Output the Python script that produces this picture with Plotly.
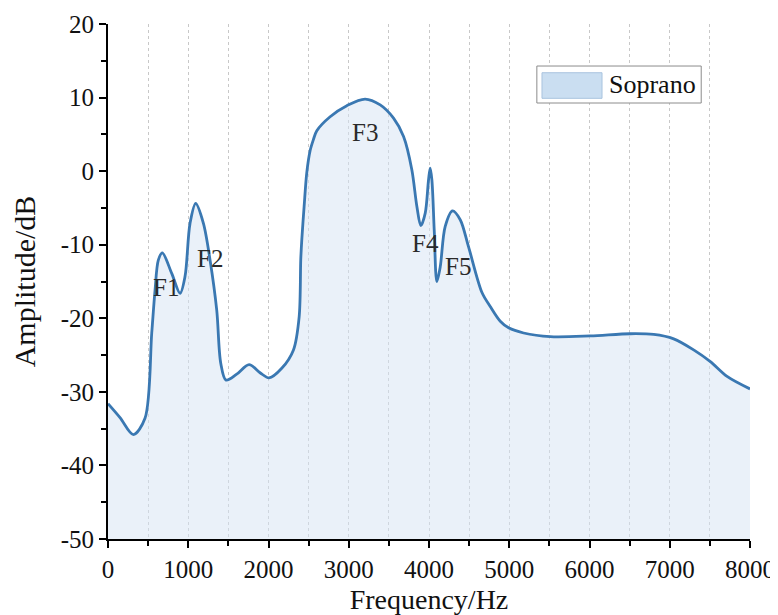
import plotly.graph_objects as go

# ---- data ----
freq_hz = [0, 150, 316, 461, 545, 586, 627, 677, 794, 898, 960, 1022, 1093, 1189,
           1272, 1355, 1405, 1471, 1604, 1758, 1895, 2007, 2165, 2311, 2382, 2402,
           2415, 2444, 2477, 2519, 2560, 2602, 2768, 2976, 3204, 3392, 3558, 3683,
           3786, 3849, 3898, 3953, 3994, 4015, 4036, 4065, 4098, 4140, 4202, 4293,
           4389, 4493, 4660, 4763, 4888, 4992, 5179, 5511, 6010, 6509, 6800, 7049,
           7298, 7506, 7714, 8000]
amp_db = [-31.6, -33.5, -35.8, -33.6, -22.0, -16.2, -12.1, -11.1, -13.9, -16.6, -14.3,
          -7.1, -4.4, -7.1, -12.1, -18.9, -26.1, -28.4, -27.6, -26.3, -27.4, -28.1,
          -26.8, -24.3, -19.8, -12.0, -9.3, -4.8, -0.2, 2.8, 4.3, 5.5, 7.4, 8.9, 9.8,
          9.0, 7.2, 4.7, 0.2, -4.8, -7.4, -5.7, -1.2, 0.4, -1.2, -8.0, -15.0, -13.0,
          -7.5, -5.4, -6.6, -10.3, -16.5, -18.4, -20.4, -21.3, -22.0, -22.5, -22.4,
          -22.1, -22.2, -22.8, -24.3, -25.9, -27.9, -29.6]

formant_labels = ["F1", "F2", "F3", "F4", "F5"]
formant_x = [723, 1272, 3198, 3953, 4358]
formant_y = [-15.8, -11.9, 5.3, -9.9, -12.9]

series_name = "Soprano"
x_range = [0, 8000]
y_range = [-50, 20]
x_tickvals = [0, 1000, 2000, 3000, 4000, 5000, 6000, 7000, 8000]
x_ticktext = ["0", "1000", "2000", "3000", "4000", "5000", "6000", "7000", "8000"]
y_tickvals = [-50, -40, -30, -20, -10, 0, 10, 20]
y_ticktext = ["-50", "-40", "-30", "-20", "-10", "0", "10", "20"]

FONT = "Liberation Serif, Times New Roman, serif"
LINE_COLOR = "#3a78b2"
FILL_COLOR = "rgba(214,228,244,0.5)"
TXT = "#111111"

fig = go.Figure()
# baseline at bottom of the axis so the fill reaches the axis
fig.add_trace(go.Scatter(x=[x_range[0], x_range[1]], y=[y_range[0], y_range[0]],
                         mode="lines", line=dict(width=0), showlegend=False,
                         hoverinfo="skip"))
fig.add_trace(go.Scatter(x=freq_hz, y=amp_db, mode="lines", name=series_name,
                         line=dict(color=LINE_COLOR, width=2.8, shape="spline", smoothing=0.9),
                         fill="tonexty", fillcolor=FILL_COLOR, showlegend=False))

for lab, fx, fy in zip(formant_labels, formant_x, formant_y):
    fig.add_annotation(x=fx, y=fy, text=lab, showarrow=False,
                       font=dict(family=FONT, size=25, color="#2a2a2a"))

# legend box drawn manually (wide swatch as in the reference)
fig.add_shape(type="rect", xref="paper", yref="paper", x0=0.668, x1=0.924,
              y0=0.8466, y1=0.9184, line=dict(color="#8c8c8c", width=1),
              fillcolor="white", layer="above")
fig.add_shape(type="rect", xref="paper", yref="paper", x0=0.676, x1=0.7695,
              y0=0.8557, y1=0.9054, line=dict(color="#a9c3de", width=1),
              fillcolor="#cadef1", layer="above")
fig.add_annotation(xref="paper", yref="paper", x=0.7773, y=0.8816, text=series_name,
                   showarrow=False, xanchor="left", yanchor="middle",
                   font=dict(family=FONT, size=26, color=TXT))

# page body has an 8px margin, so the figure is drawn 8px smaller and offset
fig.update_layout(
    width=770, height=607,
    margin=dict(l=100, r=28, t=16, b=76),
    paper_bgcolor="white", plot_bgcolor="white",
    font=dict(family=FONT, color=TXT),
    showlegend=False,
)
fig.update_xaxes(
    range=x_range, tickvals=x_tickvals, ticktext=x_ticktext, automargin=False,
    ticks="outside", ticklen=7, tickwidth=1.5,
    tickcolor="black", showline=True, linecolor="black", linewidth=2,
    tickfont=dict(family=FONT, size=25, color=TXT),
    showgrid=True, gridcolor="#c8c8c8", griddash="dot", gridwidth=1,
    minor=dict(dtick=500, ticks="outside", ticklen=5, tickwidth=1.5, tickcolor="black",
               showgrid=True, gridcolor="#c8c8c8", griddash="dot", gridwidth=1),
    zeroline=False,
    title=dict(text="Frequency/Hz", font=dict(family=FONT, size=28, color=TXT),
               standoff=8),
)
fig.update_yaxes(
    range=y_range, tickvals=y_tickvals, ticktext=y_ticktext, automargin=False,
    ticks="outside", ticklen=7, tickwidth=1.5,
    tickcolor="black", showline=True, linecolor="black", linewidth=2,
    tickfont=dict(family=FONT, size=25, color=TXT),
    showgrid=False, zeroline=False,
    minor=dict(dtick=5, ticks="outside", ticklen=5, tickwidth=1.5, tickcolor="black",
               showgrid=False),
    title=dict(text="Amplitude/dB", font=dict(family=FONT, size=30, color=TXT),
               standoff=18),
)

fig.write_html("out.html")
